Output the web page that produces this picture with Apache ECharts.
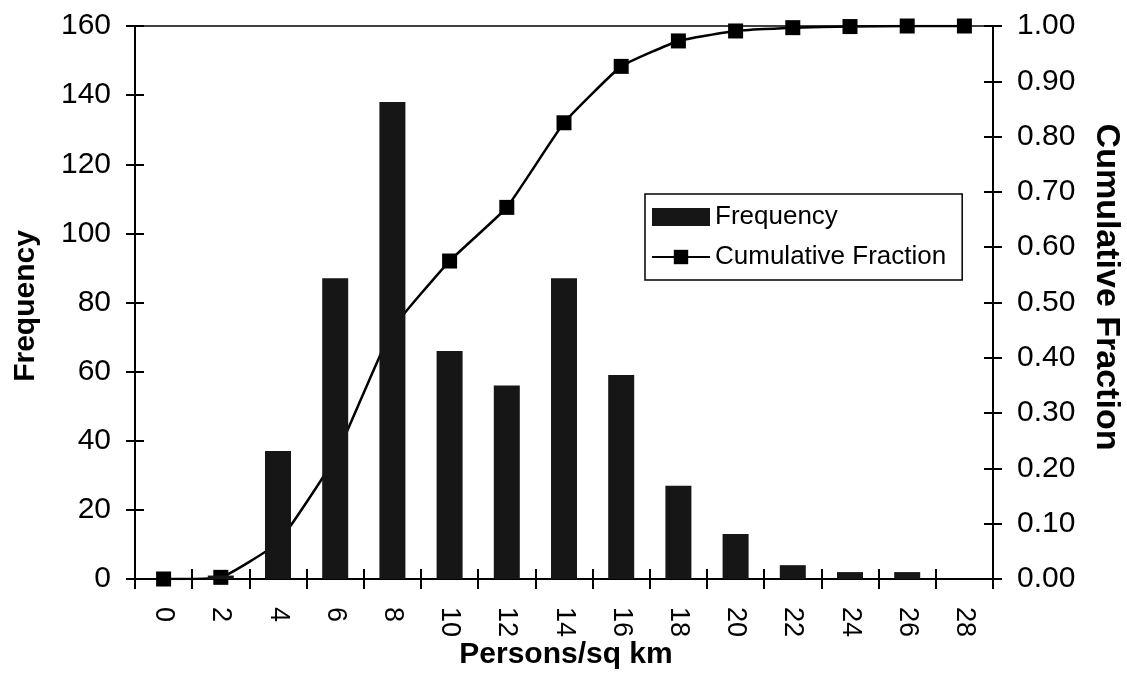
<!DOCTYPE html>
<html>
<head>
<meta charset="utf-8">
<script src="https://cdn.jsdelivr.net/npm/echarts@6/dist/echarts.min.js"></script>
<style>
html,body{margin:0;padding:0;background:#fff;}
#chart{width:1127px;height:676px;}
</style>
</head>
<body>
<div id="chart"></div>
<script>
const categories = ['0','2','4','6','8','10','12','14','16','18','20','22','24','26','28'];
const frequency = [0, 1, 37, 87, 138, 66, 56, 87, 59, 27, 13, 4, 2, 2, 0];
const cumulative = [0.000, 0.003, 0.066, 0.220, 0.452, 0.575, 0.672, 0.825, 0.927, 0.973, 0.991, 0.997, 0.999, 1.000, 1.000];
const leftTicks = {min: 0, max: 160, interval: 20};
const rightTicks = {min: 0, max: 1, interval: 0.1};

const FONT = "'Liberation Sans', Arial, sans-serif";
const chart = echarts.init(document.getElementById('chart'), null, {renderer: 'canvas'});

const hiddenLine = {show: true, lineStyle: {color: 'rgba(0,0,0,0)', width: 0}};
const option = {
  backgroundColor: '#fff',
  animation: false,
  textStyle: {fontFamily: FONT, color: '#000'},
  grid: {left: 135, right: 134, top: 26, bottom: 97, show: true, borderColor: '#000', borderWidth: 1.5, backgroundColor: 'transparent'},
  legend: {
    orient: 'vertical', left: 645, top: 194,
    padding: [10, 16, 10, 6], itemGap: 14, itemWidth: 58, itemHeight: 18,
    borderColor: '#000', borderWidth: 1.5, backgroundColor: '#fff',
    textStyle: {fontFamily: FONT, fontSize: 26, color: '#000'},
    data: [{name: 'Frequency', icon: 'rect'}, {name: 'Cumulative Fraction'}]
  },
  xAxis: [{
    type: 'category', data: categories, boundaryGap: true, position: 'bottom',
    axisLine: {lineStyle: {color: '#000', width: 2}},
    axisTick: {show: true, length: 10, lineStyle: {color: '#000', width: 2}},
    axisLabel: {rotate: -90, margin: 28, fontSize: 27, color: '#000', fontFamily: FONT}
  }, {
    type: 'category', data: categories, boundaryGap: true, position: 'bottom',
    axisLine: hiddenLine,
    axisTick: {show: true, inside: true, length: 10, lineStyle: {color: '#000', width: 2}},
    axisLabel: {show: false}
  }],
  yAxis: [{
    type: 'value', position: 'left', min: leftTicks.min, max: leftTicks.max, interval: leftTicks.interval,
    splitLine: {show: false},
    axisLine: {show: true, lineStyle: {color: '#000', width: 2}},
    axisTick: {show: true, length: 9, lineStyle: {color: '#000', width: 2}},
    axisLabel: {margin: 24, fontSize: 30, color: '#000', fontFamily: FONT}
  }, {
    type: 'value', position: 'right', min: rightTicks.min, max: rightTicks.max, interval: rightTicks.interval,
    splitLine: {show: false},
    axisLine: {show: true, lineStyle: {color: '#000', width: 2}},
    axisTick: {show: true, length: 9, lineStyle: {color: '#000', width: 2}},
    axisLabel: {margin: 24, fontSize: 30, color: '#000', fontFamily: FONT, formatter: v => v.toFixed(2)}
  }, {
    type: 'value', position: 'left', min: leftTicks.min, max: leftTicks.max, interval: leftTicks.interval,
    splitLine: {show: false}, axisLine: hiddenLine, axisLabel: {show: false},
    axisTick: {show: true, inside: true, length: 9, lineStyle: {color: '#000', width: 2}}
  }, {
    type: 'value', position: 'right', min: rightTicks.min, max: rightTicks.max, interval: rightTicks.interval,
    splitLine: {show: false}, axisLine: hiddenLine, axisLabel: {show: false},
    axisTick: {show: true, inside: true, length: 9, lineStyle: {color: '#000', width: 2}}
  }],
  series: [{
    name: 'Frequency', type: 'bar', xAxisIndex: 0, yAxisIndex: 0,
    data: frequency, barWidth: 26, z: 3,
    itemStyle: {color: '#161616'}
  }, {
    name: 'Cumulative Fraction', type: 'line', xAxisIndex: 0, yAxisIndex: 1,
    data: cumulative, smooth: 0.12, z: 2,
    symbol: 'rect', symbolSize: 15,
    lineStyle: {color: '#000', width: 2.5},
    itemStyle: {color: '#000'}
  }],
  graphic: [{
    type: 'text', x: 566, y: 655,
    style: {text: 'Persons/sq km', font: "bold 30px " + FONT, fill: '#000', align: 'center', verticalAlign: 'middle'}
  }, {
    type: 'text', x: 26, y: 306, rotation: Math.PI / 2,
    style: {text: 'Frequency', font: "bold 30px " + FONT, fill: '#000', align: 'center', verticalAlign: 'middle'}
  }, {
    type: 'text', x: 1106, y: 287, rotation: -Math.PI / 2,
    style: {text: 'Cumulative Fraction', font: "bold 34px " + FONT, fill: '#000', align: 'center', verticalAlign: 'middle'}
  }]
};
chart.setOption(option);
</script>
</body>
</html>
